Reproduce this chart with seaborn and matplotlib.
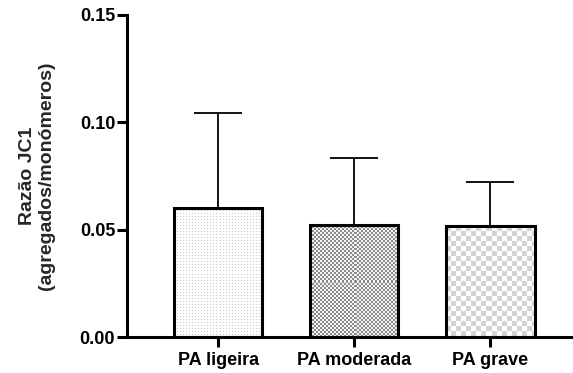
import numpy as np
import pandas as pd
import seaborn as sns
import matplotlib
matplotlib.use("Agg")
import matplotlib.pyplot as plt

groups = ["PA ligeira", "PA moderada", "PA grave"]
means = [0.0601, 0.0522, 0.0517]
sd_upper = [0.0442, 0.0312, 0.0205]
yticks = [0.00, 0.05, 0.10, 0.15]
ytick_labels = ["0.00", "0.05", "0.10", "0.15"]

sns.set_theme(style="ticks")
plt.rcParams["font.family"] = ["Liberation Sans", "DejaVu Sans"]
plt.rcParams["font.weight"] = "bold"

fig = plt.figure(figsize=(5.73, 3.73), dpi=100)
ax = fig.add_axes([127 / 573, 36 / 373, 445 / 573, 322 / 373])

df = pd.DataFrame({"group": groups, "mean": means})
sns.barplot(data=df, x="group", y="mean", color="white", edgecolor="black",
            linewidth=2.2, width=0.65, errorbar=None, ax=ax, zorder=2)
for p in ax.patches:
    p.set_facecolor("none")
    p.set_zorder(3)

ax.errorbar(range(len(groups)), means, yerr=[np.zeros(len(means)), sd_upper],
            fmt="none", ecolor="black", elinewidth=1.3, capsize=17, capthick=1.3, zorder=1)

ax.set_xlim(-0.67, 2.6)
ax.set_ylim(0, 0.15)
ax.set_yticks(yticks)
ax.set_yticklabels(ytick_labels, fontsize=13, fontweight="bold")
ax.set_xticks(range(len(groups)))
ax.set_xticklabels(groups, fontsize=13, fontweight="bold")
ax.set_xlabel("")
ax.set_ylabel("Razão JC1\n(agregados/monómeros)", fontsize=14, fontweight="bold",
              labelpad=18, linespacing=1.15)
for s in ["top", "right"]:
    ax.spines[s].set_visible(False)
for s in ["left", "bottom"]:
    ax.spines[s].set_linewidth(2.2)
    ax.spines[s].set_color("black")
ax.tick_params(axis="both", width=2.2, length=7.5, color="black", labelcolor="black", pad=1)
ax.tick_params(axis="x", pad=3)

# textures
fig.canvas.draw()
def pattern(kind, h, w):
    arr = np.ones((h, w, 3))
    yy, xx = np.mgrid[0:h, 0:w]
    if kind == 0:
        m = (yy % 3 == 0) & (xx % 3 == 0)
        arr[m] = 0.78
    elif kind == 1:
        m = ((yy // 2 + xx // 2) % 2) == 0
        arr[m] = 0.55
        arr[~m] = 0.95
    else:
        m = ((yy // 5 + xx // 5) % 2) == 0
        arr[m] = 0.83
    return arr

for i, p in enumerate(ax.patches):
    bb = p.get_window_extent()
    w = max(int(round(bb.width)), 1)
    h = max(int(round(bb.height)), 1)
    x0 = p.get_x()
    x1 = x0 + p.get_width()
    y0 = p.get_y()
    y1 = y0 + p.get_height()
    ax.imshow(pattern(i, h, w), extent=(x0, x1, y0, y1), aspect="auto",
              interpolation="nearest", zorder=0.5, origin="upper")

ax.set_xlim(-0.67, 2.6)
ax.set_ylim(0, 0.15)
fig.savefig("out.png", dpi=100)
